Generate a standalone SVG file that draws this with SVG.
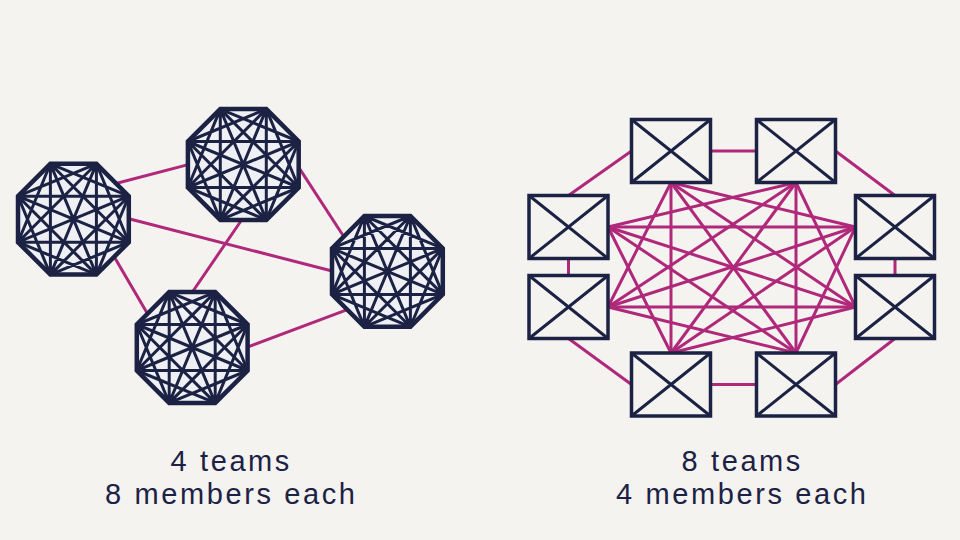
<svg xmlns="http://www.w3.org/2000/svg" xmlns:xlink="http://www.w3.org/1999/xlink" width="960" height="540" viewBox="0 0 960 540">
<style>
.bg{fill:#f4f3f0}
.link{stroke:#b0287a;stroke-width:3;fill:none;stroke-linecap:round}
.octfill{fill:#eff0f4;stroke:#1c2244;stroke-width:4.5;stroke-linejoin:miter}
.chord{stroke:#1c2244;stroke-width:3;fill:none}
.boxr{fill:#f4f3f0;stroke:#1c2244;stroke-width:3.5}
.boxx{stroke:#1c2244;stroke-width:3;fill:none}
.label{font-family:"Liberation Sans",Arial,sans-serif;font-size:29px;fill:#1c2244;text-anchor:middle;letter-spacing:2.6px}
</style>
<defs>
<g id="oct">
<polygon class="octfill" points="-23,-55.4 23,-55.4 55.4,-23 55.4,23 23,55.4 -23,55.4 -55.4,23 -55.4,-23"/>
<path class="chord" d="M-23,-55.4L55.4,-23M-23,-55.4L55.4,23M-23,-55.4L23,55.4M-23,-55.4L-23,55.4M-23,-55.4L-55.4,23M23,-55.4L55.4,23M23,-55.4L23,55.4M23,-55.4L-23,55.4M23,-55.4L-55.4,23M23,-55.4L-55.4,-23M55.4,-23L23,55.4M55.4,-23L-23,55.4M55.4,-23L-55.4,23M55.4,-23L-55.4,-23M55.4,23L-23,55.4M55.4,23L-55.4,23M55.4,23L-55.4,-23M23,55.4L-55.4,23M23,55.4L-55.4,-23M-23,55.4L-55.4,-23"/>
</g>
<g id="box">
<rect class="boxr" x="0" y="0" width="79" height="63"/>
<path class="boxx" d="M0,0L79,63M79,0L0,63"/>
</g>
</defs>
<rect class="bg" x="0" y="0" width="960" height="540"/>

<g id="connectors">
<g id="team-links">
<line class="link" x1="113" y1="184.3" x2="192" y2="163.6"/>
<line class="link" x1="126" y1="218" x2="336" y2="272"/>
<line class="link" x1="244" y1="216.5" x2="190" y2="295.5"/>
<line class="link" x1="295" y1="161.6" x2="346" y2="240"/>
<line class="link" x1="112" y1="253" x2="150" y2="318"/>
<line class="link" x1="244" y1="348.3" x2="350" y2="308.7"/>
</g>
<g id="ring-links">
<line class="link" x1="631.5" y1="151" x2="568.5" y2="195.5"/>
<line class="link" x1="710.5" y1="151" x2="756.5" y2="151"/>
<line class="link" x1="835.5" y1="151" x2="895" y2="195.5"/>
<line class="link" x1="895" y1="258.5" x2="895" y2="275.5"/>
<line class="link" x1="895" y1="338.5" x2="835.5" y2="384.5"/>
<line class="link" x1="756.5" y1="384.5" x2="710.5" y2="384.5"/>
<line class="link" x1="631.5" y1="384.5" x2="568.5" y2="338.5"/>
<line class="link" x1="568.5" y1="275.5" x2="568.5" y2="258.5"/>
</g>
<g id="mesh-links">
<line class="link" x1="671" y1="182.5" x2="855.5" y2="227"/>
<line class="link" x1="671" y1="182.5" x2="855.5" y2="307"/>
<line class="link" x1="671" y1="182.5" x2="796" y2="353"/>
<line class="link" x1="671" y1="182.5" x2="671" y2="353"/>
<line class="link" x1="671" y1="182.5" x2="608" y2="307"/>
<line class="link" x1="796" y1="182.5" x2="855.5" y2="307"/>
<line class="link" x1="796" y1="182.5" x2="796" y2="353"/>
<line class="link" x1="796" y1="182.5" x2="671" y2="353"/>
<line class="link" x1="796" y1="182.5" x2="608" y2="307"/>
<line class="link" x1="796" y1="182.5" x2="608" y2="227"/>
<line class="link" x1="855.5" y1="227" x2="796" y2="353"/>
<line class="link" x1="855.5" y1="227" x2="671" y2="353"/>
<line class="link" x1="855.5" y1="227" x2="608" y2="307"/>
<line class="link" x1="855.5" y1="227" x2="608" y2="227"/>
<line class="link" x1="855.5" y1="307" x2="671" y2="353"/>
<line class="link" x1="855.5" y1="307" x2="608" y2="307"/>
<line class="link" x1="855.5" y1="307" x2="608" y2="227"/>
<line class="link" x1="796" y1="353" x2="608" y2="307"/>
<line class="link" x1="796" y1="353" x2="608" y2="227"/>
<line class="link" x1="671" y1="353" x2="608" y2="227"/>
</g>
</g>

<g id="team-a"><use xlink:href="#oct" href="#oct" transform="translate(73.4,219.2)"/></g>
<g id="team-b"><use xlink:href="#oct" href="#oct" transform="translate(243.3,164.5)"/></g>
<g id="team-c"><use xlink:href="#oct" href="#oct" transform="translate(387.4,271.4)"/></g>
<g id="team-d"><use xlink:href="#oct" href="#oct" transform="translate(192.2,347.5)"/></g>

<g id="box-tl"><use xlink:href="#box" href="#box" transform="translate(631.5,119.5)"/></g>
<g id="box-tr"><use xlink:href="#box" href="#box" transform="translate(756.5,119.5)"/></g>
<g id="box-lu"><use xlink:href="#box" href="#box" transform="translate(529,195.5)"/></g>
<g id="box-ru"><use xlink:href="#box" href="#box" transform="translate(855.5,195.5)"/></g>
<g id="box-ll"><use xlink:href="#box" href="#box" transform="translate(529,275.5)"/></g>
<g id="box-rl"><use xlink:href="#box" href="#box" transform="translate(855.5,275.5)"/></g>
<g id="box-bl"><use xlink:href="#box" href="#box" transform="translate(631.5,353)"/></g>
<g id="box-br"><use xlink:href="#box" href="#box" transform="translate(756.5,353)"/></g>

<g id="caption-left">
<text class="label" x="231.3" y="471">4 teams</text>
<text class="label" x="231.3" y="504">8 members each</text>
</g>
<g id="caption-right">
<text class="label" x="742.3" y="471">8 teams</text>
<text class="label" x="742.3" y="504">4 members each</text>
</g>
</svg>
